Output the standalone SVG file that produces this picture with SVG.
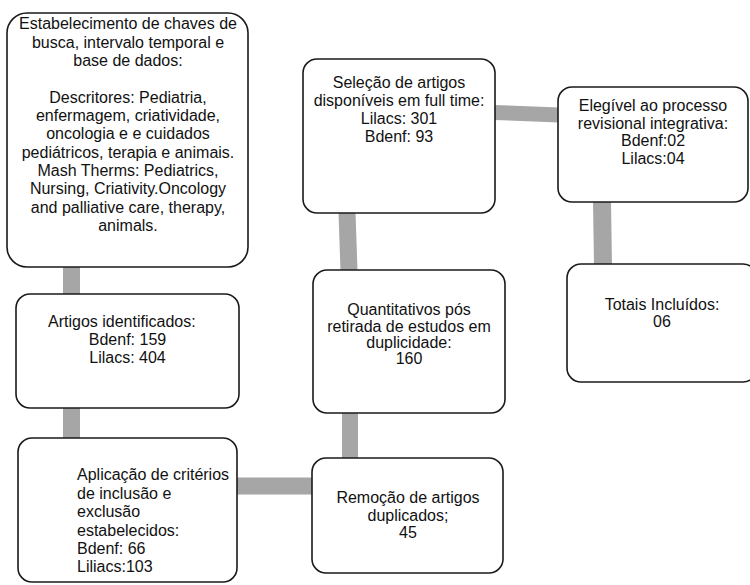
<svg xmlns="http://www.w3.org/2000/svg" width="750" height="585" viewBox="0 0 750 585">
<style>
.box{fill:#fff;stroke:#1a1a1a;stroke-width:1.6}
.c{stroke:#a6a6a6;fill:none}
text{font-family:"Liberation Sans",Arial,sans-serif;font-size:16px;fill:#111}
.m{text-anchor:middle}
</style>
<rect width="750" height="585" fill="#fff"/>
<g id="connectors">
<line class="c" x1="71.5" y1="266" x2="71.5" y2="295" stroke-width="17"/>
<line class="c" x1="71.5" y1="407" x2="71.5" y2="439" stroke-width="17"/>
<line class="c" x1="236" y1="486" x2="313" y2="486" stroke-width="17"/>
<line class="c" x1="350" y1="459" x2="350" y2="412" stroke-width="16"/>
<line class="c" x1="349" y1="271" x2="347" y2="212" stroke-width="17"/>
<line class="c" x1="494" y1="112.5" x2="559" y2="115" stroke-width="15"/>
<line class="c" x1="602" y1="201" x2="603" y2="265" stroke-width="18"/>
</g>
<g id="n1">
<rect class="box" x="7" y="13" width="241" height="254" rx="20"/>
<text class="m" x="128"><tspan x="128" y="29">Estabelecimento de chaves de</tspan><tspan x="128" y="47.5">busca, intervalo temporal e</tspan><tspan x="128" y="66">base de dados:</tspan><tspan x="128" y="102.5">Descritores: Pediatria,</tspan><tspan x="128" y="121">enfermagem, criatividade,</tspan><tspan x="128" y="139">oncologia e e cuidados</tspan><tspan x="128" y="157.5">pediátricos, terapia e animais.</tspan><tspan x="128" y="176">Mash Therms: Pediatrics,</tspan><tspan x="128" y="194">Nursing, Criativity.Oncology</tspan><tspan x="128" y="212.5">and palliative care, therapy,</tspan><tspan x="128" y="231">animals.</tspan></text>
</g>
<g id="n2">
<rect class="box" x="16" y="294" width="223" height="114" rx="14"/>
<text x="48" y="327">Artigos identificados:</text>
<text class="m" x="127.5" y="345">Bdenf: 159</text>
<text class="m" x="127.5" y="363">Lilacs: 404</text>
</g>
<g id="n3">
<rect class="box" x="18" y="438" width="219" height="144" rx="14"/>
<text x="77"><tspan x="77" y="480">Aplicação de critérios</tspan><tspan x="77" y="498.5">de inclusão e</tspan><tspan x="77" y="517">exclusão</tspan><tspan x="77" y="535.5">estabelecidos:</tspan><tspan x="77" y="554">Bdenf: 66</tspan><tspan x="77" y="572">Liliacs:103</tspan></text>
</g>
<g id="n4">
<rect class="box" x="312" y="458" width="191" height="115" rx="14"/>
<text class="m"><tspan x="408" y="503">Remoção de artigos</tspan><tspan x="408" y="520.5">duplicados;</tspan><tspan x="408" y="538">45</tspan></text>
</g>
<g id="n5">
<rect class="box" x="313" y="270" width="192" height="143" rx="14"/>
<text class="m"><tspan x="409" y="315">Quantitativos pós</tspan><tspan x="409" y="331.5">retirada de estudos em</tspan><tspan x="409" y="348">duplicidade:</tspan><tspan x="409" y="364">160</tspan></text>
</g>
<g id="n6">
<rect class="box" x="303" y="59" width="192" height="154" rx="14"/>
<text class="m"><tspan x="399" y="88">Seleção de artigos</tspan><tspan x="399" y="106">disponíveis em full time:</tspan><tspan x="399" y="124">Lilacs: 301</tspan><tspan x="399" y="142">Bdenf: 93</tspan></text>
</g>
<g id="n7">
<rect class="box" x="558" y="87" width="190" height="115" rx="14"/>
<text class="m"><tspan x="653" y="111">Elegível ao processo</tspan><tspan x="653" y="128.5">revisional integrativa:</tspan><tspan x="653" y="146">Bdenf:02</tspan><tspan x="653" y="163.5">Lilacs:04</tspan></text>
</g>
<g id="n8">
<rect class="box" x="567" y="264" width="190" height="118" rx="14"/>
<text class="m"><tspan x="662" y="310">Totais Incluídos:</tspan><tspan x="662" y="327">06</tspan></text>
</g>
</svg>
